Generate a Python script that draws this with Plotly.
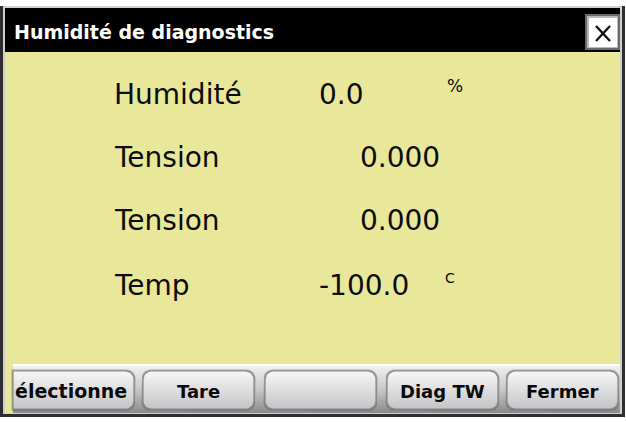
import numpy as np
import plotly.graph_objects as go

W, H = 626, 422

# ---- content (text / values) ----
title_text = "Humidité de diagnostics"
row_labels = ["Humidité", "Tension", "Tension", "Temp"]
row_values = ["0.0", "0.000", "0.000", "-100.0"]
row_units = ["%", "", "", "C"]
button_labels = ["électionne", "Tare", "", "Diag TW", "Fermer"]

# ---- layout positions ----
row_y = [94, 157, 220, 285]
label_x = 112
value_x = [317, 358, 358, 317]
unit_xy = [(445, 86), None, None, (443, 278)]
unit_size = [17, 0, 0, 14]
button_x = [(13, 134), (143, 254), (265, 376), (387, 498), (507, 618)]
button_font = [19, 18, 18, 18, 18]
btn_y0, btn_y1 = 371, 409

YELLOW = "#E9E89A"


def rrect(x0, x1, y0, y1, r, round_left=True):
    xs, ys = [], []
    def arc(cx, cy, a0, a1):
        t = np.radians(np.linspace(a0, a1, 10))
        xs.extend(cx + r * np.cos(t)); ys.extend(cy + r * np.sin(t))
    arc(x1 - r, y0 + r, -90, 0)
    arc(x1 - r, y1 - r, 0, 90)
    if round_left:
        arc(x0 + r, y1 - r, 90, 180)
        arc(x0 + r, y0 + r, 180, 270)
    else:
        xs.extend([x0, x0]); ys.extend([y1, y0])
    xs.append(xs[0]); ys.append(ys[0])
    return xs, ys


fig = go.Figure()
shapes = []
annotations = []

# outer frame
shapes.append(dict(type="rect", x0=0, x1=625, y0=6, y1=417, fillcolor="#2e2e2e", line_width=0, layer="below"))
shapes.append(dict(type="rect", x0=3, x1=622, y0=6, y1=414, fillcolor="#cfcfcf", line_width=0, layer="below"))
# yellow body
shapes.append(dict(type="rect", x0=5, x1=620, y0=52, y1=413, fillcolor=YELLOW, line_width=0, layer="below"))
# title bar
shapes.append(dict(type="rect", x0=5, x1=620, y0=8, y1=52, fillcolor="#000000", line_width=0, layer="below"))

# button strip (gradient)
sx, sy = [13, 620, 620, 13, 13], [365, 365, 413, 413, 365]
fig.add_trace(go.Scatter(x=sx, y=sy, mode="lines", line=dict(width=0), fill="toself",
                         fillgradient=dict(type="vertical", start=365, stop=413,
                                           colorscale=[[0, "#f2f2f2"], [0.5, "#c9c9cb"], [1, "#8a8a8c"]]),
                         hoverinfo="skip", showlegend=False))
shapes.append(dict(type="line", x0=13, x1=620, y0=365, y1=365, line=dict(color="#ffffff", width=2)))

# buttons
for i, ((bx0, bx1), lab, fs) in enumerate(zip(button_x, button_labels, button_font)):
    rl = i != 0
    xs, ys = rrect(bx0 - 1.5, bx1 + 1.5, btn_y0 - 1.5, btn_y1 + 2, 9, rl)
    fig.add_trace(go.Scatter(x=xs, y=ys, mode="lines", line=dict(width=0), fill="toself",
                             fillcolor="rgba(90,90,90,0.45)", hoverinfo="skip", showlegend=False))
    xs, ys = rrect(bx0, bx1, btn_y0, btn_y1, 8, rl)
    fig.add_trace(go.Scatter(x=xs, y=ys, mode="lines", line=dict(width=1.2, color="#8a8a8a"), fill="toself",
                             fillgradient=dict(type="vertical", start=btn_y0, stop=btn_y1,
                                               colorscale=[[0, "#f7f7f7"], [0.5, "#dedee0"], [1, "#c4c4c8"]]),
                             hoverinfo="skip", showlegend=False))
    if lab:
        if i == 0:
            annotations.append(dict(x=bx0 - 0.5, y=(btn_y0 + btn_y1) / 2 + 1, text=f"<b>{lab}</b>", xanchor="left",
                                    yanchor="middle", showarrow=False,
                                    font=dict(family="DejaVu Sans", size=fs, color="#0a0a0a")))
        else:
            annotations.append(dict(x=(bx0 + bx1) / 2, y=(btn_y0 + btn_y1) / 2 + 1, text=f"<b>{lab}</b>",
                                    xanchor="center", yanchor="middle", showarrow=False,
                                    font=dict(family="DejaVu Sans", size=fs, color="#0a0a0a")))

# close box
shapes.append(dict(type="rect", x0=585, x1=620, y0=14, y1=50, fillcolor="#6a6a6a", line_width=0))
shapes.append(dict(type="rect", x0=587, x1=618, y0=16, y1=48, fillcolor="#b8b8b8", line_width=0))
shapes.append(dict(type="rect", x0=589, x1=617, y0=18, y1=47, fillcolor="#ffffff", line_width=0))
shapes.append(dict(type="line", x0=596, x1=610, y0=26, y1=41, line=dict(color="#111111", width=2.4)))
shapes.append(dict(type="line", x0=610, x1=596, y0=26, y1=41, line=dict(color="#111111", width=2.4)))

# title
annotations.append(dict(x=12, y=32, text=f"<b>{title_text}</b>", xanchor="left", yanchor="middle",
                        showarrow=False, font=dict(family="DejaVu Sans", size=19, color="#ffffff")))

# rows
for lab, val, unit, y, vx, uxy, us in zip(row_labels, row_values, row_units, row_y, value_x, unit_xy, unit_size):
    annotations.append(dict(x=label_x, y=y, text=lab, xanchor="left", yanchor="middle", showarrow=False,
                            font=dict(family="DejaVu Sans", size=28, color="#0c0c0c")))
    annotations.append(dict(x=vx, y=y, text=val, xanchor="left", yanchor="middle", showarrow=False,
                            font=dict(family="DejaVu Sans", size=28, color="#0c0c0c")))
    if unit and uxy:
        annotations.append(dict(x=uxy[0], y=uxy[1], text=unit, xanchor="left", yanchor="middle", showarrow=False,
                                font=dict(family="DejaVu Sans", size=us, color="#0c0c0c")))

fig.update_layout(
    width=W, height=H, margin=dict(l=0, r=0, t=0, b=0),
    paper_bgcolor="#ffffff", plot_bgcolor="#ffffff",
    xaxis=dict(range=[0, W], visible=False, fixedrange=True),
    yaxis=dict(range=[H, 0], visible=False, fixedrange=True),
    shapes=shapes, annotations=annotations, showlegend=False,
)

fig.write_html("out.html", config={"displayModeBar": False},
               post_script="document.body.style.margin='0';document.body.style.overflow='hidden';")
